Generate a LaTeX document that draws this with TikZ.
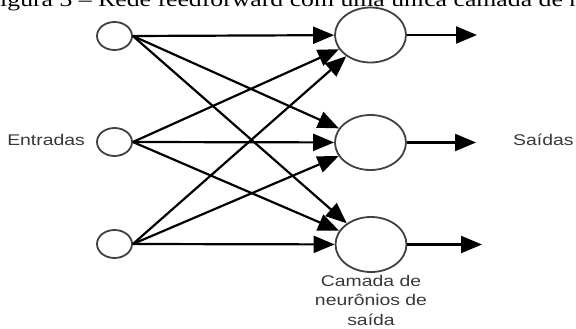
\documentclass[tikz,border=0pt]{standalone}
\usepackage{fontspec}
\setmainfont{Liberation Serif}
\newfontfamily\arialf{Liberation Sans}
\usetikzlibrary{shapes.geometric,arrows.meta}
\begin{document}
\begin{tikzpicture}[x=1pt,y=-1pt,
 inp/.style={ellipse, draw=black!75, line width=1.8pt, minimum width=35pt, minimum height=28pt, inner sep=0pt},
 outn/.style={ellipse, draw=black!75, line width=1.8pt, minimum width=71pt, minimum height=55pt, inner sep=0pt},
 conn/.style={line width=2.2pt, -{Triangle[length=21pt,width=17pt]}},
 lbl/.style={font=\arialf\fontsize{15.5}{19.5}\selectfont, text=black!78, inner sep=0pt}]
\useasboundingbox (0,0) rectangle (576,329);
\clip (0,0) rectangle (576,329);
\node[anchor=base west, inner sep=0pt, font=\fontsize{20.6}{24}\selectfont] (cap) at (-14.3,7)
  {\scalebox{1.25}[1]{Figura 3 -- Rede feedforward com uma única camada de neurônios}};
\node[inp] (i1) at (114.5,36) {};
\node[inp] (i2) at (114.5,142) {};
\node[inp] (i3) at (114.5,244) {};
\node[outn] (o1) at (370.5,35) {};
\node[outn] (o2) at (370.5,142.5) {};
\node[outn] (o3) at (371,244.5) {};
\coordinate (e1) at (477,35);
\coordinate (e2) at (476,142.5);
\coordinate (e3) at (482,244.5);
\foreach \a in {i1,i2,i3}{
  \foreach \b in {o1,o2,o3}{
    \draw[conn] (\a.east) -- (\b);
  }
}
\draw[conn] (o1.east) -- (e1);
\draw[conn] (o2.east) -- (e2);
\draw[conn] (o3.east) -- (e3);
\node[lbl, anchor=base east] (ent) at (85,145) {\scalebox{1.25}[1]{Entradas}};
\node[lbl, anchor=base west] (sai) at (513,146) {\scalebox{1.25}[1]{Saídas}};
\node[lbl, anchor=north, align=center] (cam) at (371,275)
  {\scalebox{1.25}[1]{Camada de}\\\scalebox{1.25}[1]{neurônios de}\\\scalebox{1.25}[1]{saída}};
\end{tikzpicture}
\end{document}
